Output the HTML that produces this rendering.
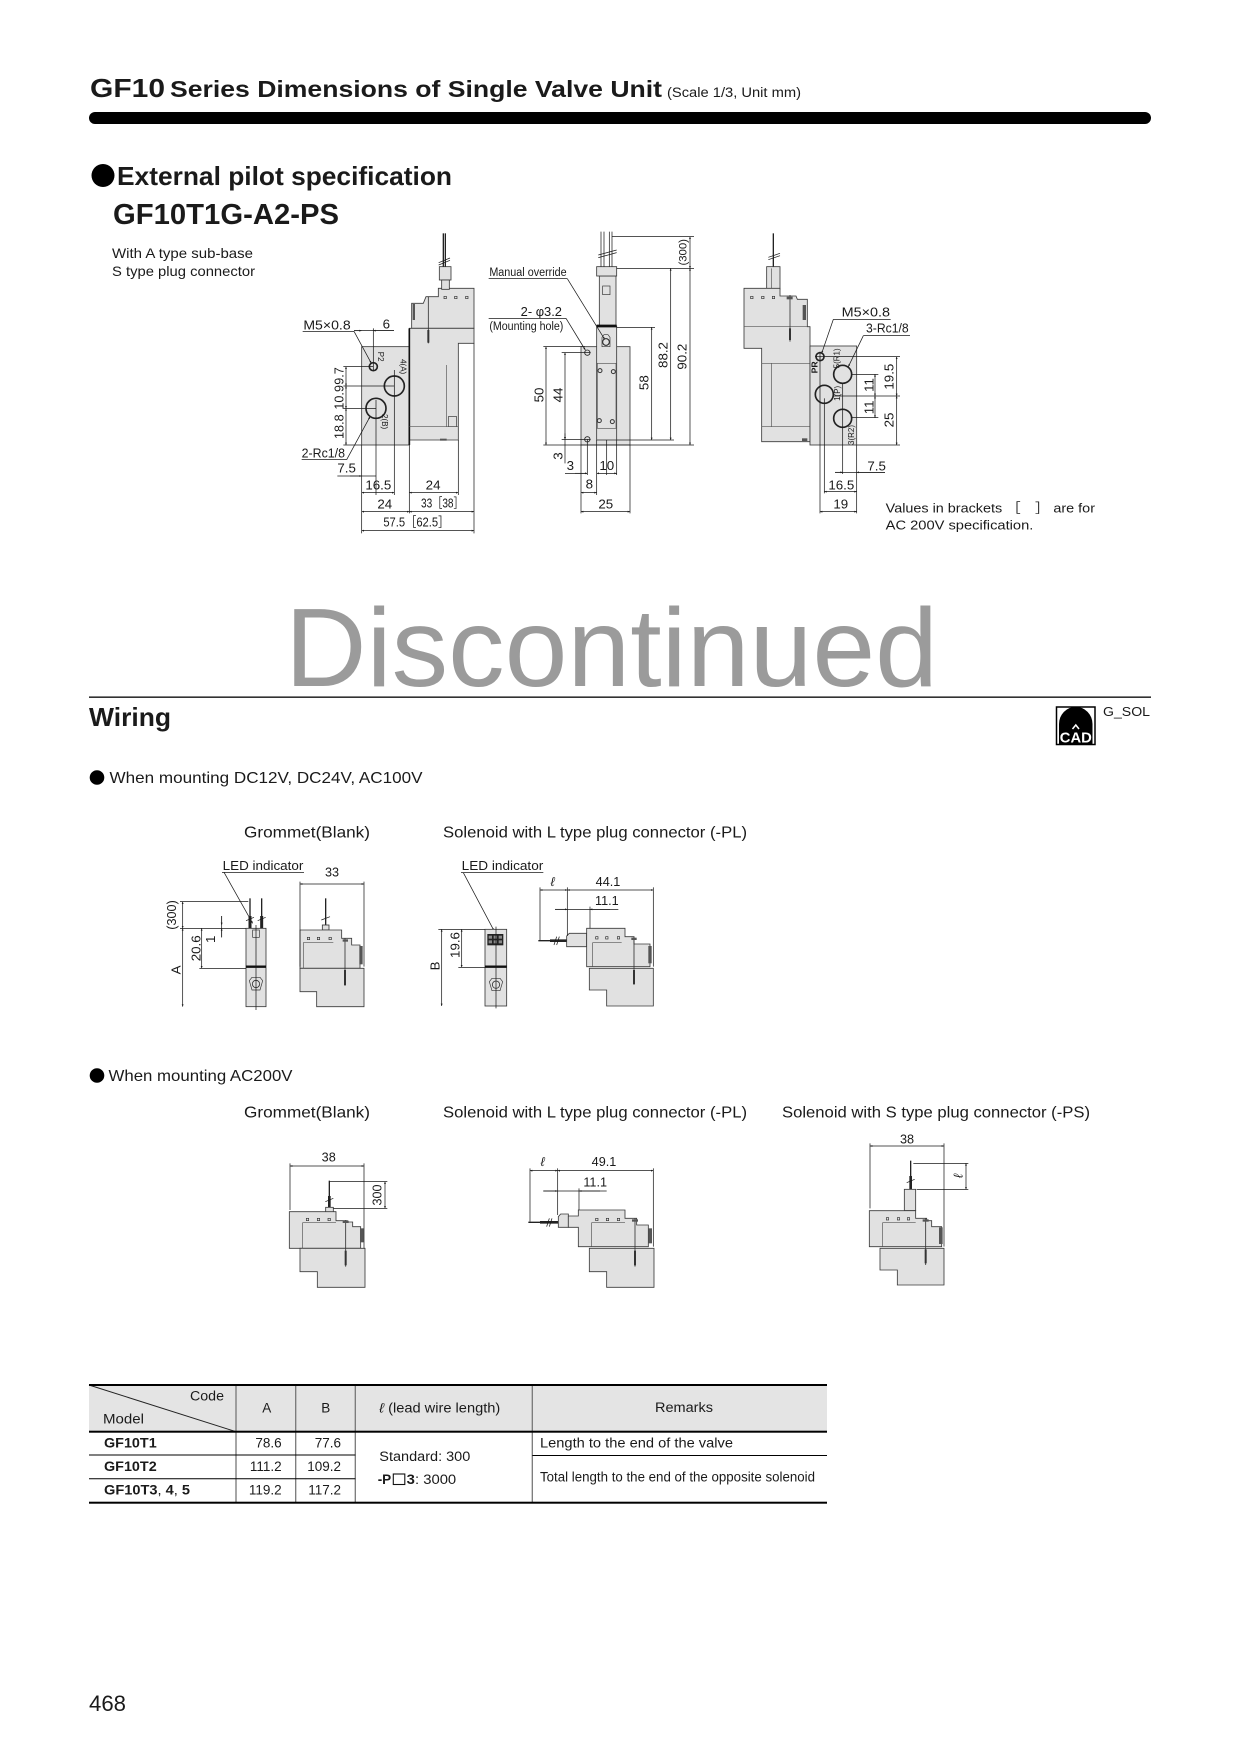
<!DOCTYPE html>
<html><head><meta charset="utf-8"><style>
html,body{margin:0;padding:0;background:#fff}
svg{display:block}
text{font-family:"Liberation Sans","Noto Sans CJK JP",Arial,sans-serif;fill:#1a1a1a}
.o{fill:#e1e1e1;stroke:#3a3a3a;stroke-width:2.5}
.l{stroke:#1a1a1a;stroke-width:2.2;fill:none}
.g{stroke:#555;stroke-width:2;fill:none}
.a{stroke:#1a1a1a;stroke-width:2.2;fill:none;marker-start:url(#ar);marker-end:url(#ar)}
.e{stroke:#1a1a1a;stroke-width:2.2;fill:none;marker-end:url(#ar)}
.w{stroke:#222;stroke-width:4;fill:none}
.p{fill:none;stroke:#222;stroke-width:5}
.s{fill:none;stroke:#333;stroke-width:2}
.dk{fill:#555}
</style></head><body>
<svg width="1240" height="1752" viewBox="0 0 1240 1752" xmlns="http://www.w3.org/2000/svg">
<defs><marker id="ar" viewBox="0 0 10 10" refX="10" refY="5" markerWidth="16" markerHeight="7" markerUnits="userSpaceOnUse" orient="auto-start-reverse"><path d="M0,1 L10,5 L0,9z" fill="#1a1a1a"/></marker></defs>

<!-- Header -->
<text x="90" y="97" font-size="26" font-weight="bold" textLength="75" lengthAdjust="spacingAndGlyphs">GF10</text>
<text x="170" y="97" font-size="23" font-weight="bold" textLength="492" lengthAdjust="spacingAndGlyphs">Series Dimensions of Single Valve Unit</text>
<text x="667" y="97" font-size="13.5" textLength="134" lengthAdjust="spacingAndGlyphs">(Scale 1/3, Unit mm)</text>
<rect x="89" y="112" width="1062" height="12" rx="6" fill="#000"/>
<circle cx="103" cy="175.5" r="11.5" fill="#000"/>
<text x="117" y="185" font-size="26" font-weight="bold" textLength="335" lengthAdjust="spacingAndGlyphs">External pilot specification</text>
<text x="113" y="224" font-size="29" font-weight="bold" textLength="226" lengthAdjust="spacingAndGlyphs">GF10T1G-A2-PS</text>
<text x="112" y="258" font-size="14" textLength="141" lengthAdjust="spacingAndGlyphs">With A type sub-base</text>
<text x="112" y="276" font-size="14" textLength="143" lengthAdjust="spacingAndGlyphs">S type plug connector</text>

<!-- Left & center views -->
<g transform="translate(250,200) scale(0.33333)">
  <!-- left view -->
  <rect class="o" x="335" y="440" width="143" height="295"/>
  <path class="o" d="M485,385 L485,310 L520,310 L528,290 L565,290 L565,265 L672,265 L672,385 Z"/>
  <path class="o" d="M478,385 L672,385 L672,430 L625,430 L625,720 L478,720 Z"/>
  <line x1="478" y1="385" x2="478" y2="735" stroke="#111" stroke-width="5"/>
  <rect class="dk" x="488" y="312" width="7" height="48"/>
  <line class="g" x1="590" y1="495" x2="590" y2="680"/>
  <rect class="s" x="595" y="650" width="25" height="30"/>
  <line class="g" x1="478" y1="680" x2="625" y2="680"/>
  <rect class="dk" x="570" y="716" width="20" height="6"/>
  <line x1="535" y1="290" x2="535" y2="430" stroke="#333" stroke-width="2.5"/>
  <line x1="535" y1="390" x2="535" y2="428" stroke="#333" stroke-width="6"/>
  <rect class="s" x="582" y="289" width="7" height="7"/><rect class="s" x="614" y="289" width="7" height="7"/><rect class="s" x="647" y="289" width="7" height="7"/>
  <rect class="o" x="568" y="200" width="35" height="40"/>
  <rect class="o" x="575" y="240" width="23" height="28"/>
  <line class="w" x1="580" y1="100" x2="580" y2="200" stroke-width="2.5"/><line class="w" x1="586" y1="100" x2="586" y2="200" stroke-width="2.5"/>
  <line class="l" x1="566" y1="188" x2="600" y2="174"/><line class="l" x1="566" y1="195" x2="600" y2="181"/>
  <circle class="p" cx="370" cy="500" r="12" stroke-width="4"/>
  <circle class="p" cx="433" cy="558" r="30"/>
  <circle class="p" cx="378" cy="625" r="30"/>
  <text transform="translate(384,470) rotate(90)" font-size="24" text-anchor="middle">P2</text>
  <text transform="translate(452,500) rotate(90)" font-size="24" text-anchor="middle">4(A)</text>
  <text transform="translate(396,665) rotate(90)" font-size="24" text-anchor="middle">2(B)</text>
  <text x="160" y="388" font-size="40" textLength="142" lengthAdjust="spacingAndGlyphs">M5×0.8</text>
  <line class="l" x1="158" y1="394" x2="312" y2="394"/>
  <line class="e" x1="312" y1="394" x2="364" y2="490"/>
  <text x="398" y="385" font-size="40">6</text>
  <line class="l" x1="312" y1="392" x2="432" y2="392"/>
  <line class="e" x1="312" y1="392" x2="335" y2="392"/><line class="e" x1="432" y1="392" x2="370" y2="392"/>
  <line class="l" x1="370" y1="385" x2="370" y2="512"/>
  <line class="l" x1="280" y1="500" x2="370" y2="500"/>
  <line class="l" x1="280" y1="558" x2="433" y2="558"/>
  <line class="l" x1="280" y1="625" x2="378" y2="625"/>
  <line class="l" x1="280" y1="735" x2="335" y2="735"/>
  <line class="a" x1="288" y1="500" x2="288" y2="558"/>
  <line class="a" x1="288" y1="558" x2="288" y2="625"/>
  <line class="a" x1="288" y1="625" x2="288" y2="735"/>
  <text transform="translate(280,528) rotate(-90)" font-size="38" text-anchor="middle">9.7</text>
  <text transform="translate(280,592) rotate(-90)" font-size="38" text-anchor="middle">10.9</text>
  <text transform="translate(280,680) rotate(-90)" font-size="38" text-anchor="middle">18.8</text>
  <text x="155" y="773" font-size="40" textLength="130" lengthAdjust="spacingAndGlyphs">2-Rc1/8</text>
  <line class="l" x1="155" y1="779" x2="290" y2="779"/>
  <line class="e" x1="290" y1="779" x2="360" y2="650"/>
  <text x="262" y="818" font-size="40">7.5</text>
  <line class="l" x1="262" y1="828" x2="378" y2="828"/>
  <line class="e" x1="300" y1="828" x2="335" y2="828"/>
  <text x="346" y="868" font-size="40">16.5</text>
  <line class="a" x1="335" y1="878" x2="433" y2="878"/>
  <text x="527" y="868" font-size="40">24</text>
  <line class="a" x1="478" y1="878" x2="625" y2="878"/>
  <text x="382" y="925" font-size="40">24</text>
  <line class="a" x1="335" y1="935" x2="478" y2="935"/>
  <text x="513" y="922" font-size="40" textLength="128" lengthAdjust="spacingAndGlyphs">33［38］</text>
  <line class="a" x1="478" y1="935" x2="672" y2="935"/>
  <text x="400" y="980" font-size="40" textLength="198" lengthAdjust="spacingAndGlyphs">57.5［62.5］</text>
  <line class="a" x1="335" y1="992" x2="672" y2="992"/>
  <line class="l" x1="335" y1="735" x2="335" y2="1000"/>
  <line class="l" x1="378" y1="600" x2="378" y2="885"/>
  <line class="l" x1="433" y1="510" x2="433" y2="885"/>
  <line class="l" x1="478" y1="720" x2="478" y2="940"/>
  <line class="l" x1="625" y1="720" x2="625" y2="885"/>
  <line class="l" x1="672" y1="430" x2="672" y2="1000"/>

  <!-- center view -->
  <rect class="o" x="993" y="440" width="147" height="295"/>
  <rect class="o" x="1040" y="378" width="60" height="342"/>
  <rect class="o" x="1048" y="228" width="50" height="150"/>
  <rect class="o" x="1040" y="200" width="60" height="28"/>
  <rect class="s" x="1058" y="258" width="22" height="26"/>
  <line x1="1040" y1="378" x2="1100" y2="378" stroke="#111" stroke-width="8"/>
  <rect class="g" x="1042" y="490" width="56" height="195"/>
  <path class="s" d="M1056,412 L1062,404 L1074,404 L1080,412 L1080,440 L1056,440 Z"/>
  <circle cx="1068" cy="426" r="10" fill="none" stroke="#222" stroke-width="3"/>
  <circle cx="1050" cy="512" r="6" fill="none" stroke="#333" stroke-width="3"/>
  <circle cx="1090" cy="515" r="6" fill="none" stroke="#333" stroke-width="3"/>
  <circle cx="1048" cy="662" r="6" fill="none" stroke="#333" stroke-width="3"/>
  <circle cx="1087" cy="665" r="6" fill="none" stroke="#333" stroke-width="3"/>
  <line class="l" x1="1053" y1="95" x2="1053" y2="200"/><line class="l" x1="1062" y1="95" x2="1062" y2="200"/>
  <line class="l" x1="1078" y1="95" x2="1078" y2="200"/><line class="l" x1="1086" y1="95" x2="1086" y2="200"/>
  <line class="l" x1="1045" y1="165" x2="1100" y2="150"/><line class="l" x1="1045" y1="173" x2="1100" y2="158"/>
  <circle cx="1012" cy="458" r="8" fill="none" stroke="#222" stroke-width="2.5"/>
  <circle cx="1012" cy="718" r="8" fill="none" stroke="#222" stroke-width="2.5"/>
  <line class="l" x1="1086" y1="110" x2="1332" y2="110"/>
  <line class="l" x1="1100" y1="205" x2="1332" y2="205"/>
  <line class="l" x1="1100" y1="382" x2="1215" y2="382"/>
  <line class="l" x1="1100" y1="720" x2="1272" y2="720"/>
  <line class="l" x1="880" y1="735" x2="1332" y2="735"/>
  <line class="l" x1="880" y1="440" x2="1005" y2="440"/>
  <line class="l" x1="935" y1="458" x2="1022" y2="458"/>
  <line class="l" x1="935" y1="718" x2="1022" y2="718"/>
  <line class="a" x1="1320" y1="110" x2="1320" y2="205"/>
  <line class="a" x1="1320" y1="205" x2="1320" y2="735"/>
  <line class="a" x1="1262" y1="205" x2="1262" y2="720"/>
  <line class="a" x1="1205" y1="382" x2="1205" y2="720"/>
  <line class="a" x1="888" y1="440" x2="888" y2="735"/>
  <line class="a" x1="945" y1="458" x2="945" y2="718"/>
  <line class="l" x1="945" y1="718" x2="945" y2="790"/>
  <line class="e" x1="945" y1="700" x2="945" y2="718"/>
  <text transform="translate(1310,157) rotate(-90)" font-size="34" text-anchor="middle">(300)</text>
  <text transform="translate(1310,470) rotate(-90)" font-size="40" text-anchor="middle">90.2</text>
  <text transform="translate(1252,465) rotate(-90)" font-size="40" text-anchor="middle">88.2</text>
  <text transform="translate(1195,548) rotate(-90)" font-size="40" text-anchor="middle">58</text>
  <text transform="translate(880,585) rotate(-90)" font-size="40" text-anchor="middle">50</text>
  <text transform="translate(938,585) rotate(-90)" font-size="40" text-anchor="middle">44</text>
  <text transform="translate(938,768) rotate(-90)" font-size="40" text-anchor="middle">3</text>
  <line class="l" x1="993" y1="735" x2="993" y2="940"/>
  <line class="l" x1="1012" y1="718" x2="1012" y2="825"/>
  <line class="l" x1="1040" y1="720" x2="1040" y2="885"/>
  <line class="l" x1="1070" y1="720" x2="1070" y2="825"/>
  <line class="l" x1="1100" y1="720" x2="1100" y2="825"/>
  <line class="l" x1="1140" y1="735" x2="1140" y2="940"/>
  <text x="950" y="810" font-size="40">3</text>
  <line class="l" x1="945" y1="820" x2="1012" y2="820"/>
  <line class="e" x1="975" y1="820" x2="1012" y2="820"/>
  <text x="1048" y="810" font-size="40">10</text>
  <line class="a" x1="1040" y1="820" x2="1100" y2="820"/>
  <text x="1007" y="865" font-size="40">8</text>
  <line class="a" x1="993" y1="878" x2="1040" y2="878"/>
  <text x="1045" y="925" font-size="40">25</text>
  <line class="a" x1="993" y1="935" x2="1140" y2="935"/>
  <text x="718" y="228" font-size="36" textLength="232" lengthAdjust="spacingAndGlyphs">Manual override</text>
  <line class="l" x1="716" y1="236" x2="952" y2="236"/>
  <line class="e" x1="952" y1="236" x2="1064" y2="418"/>
  <text x="812" y="348" font-size="40" textLength="124" lengthAdjust="spacingAndGlyphs">2- φ3.2</text>
  <line class="l" x1="716" y1="355" x2="948" y2="355"/>
  <text x="718" y="390" font-size="36" textLength="222" lengthAdjust="spacingAndGlyphs">(Mounting hole)</text>
  <line class="e" x1="948" y1="355" x2="1006" y2="450"/>
</g>

<!-- Right view -->
<g transform="translate(720,220) scale(0.33333)">
  <line class="w" x1="160" y1="40" x2="160" y2="140"/>
  <line class="l" x1="145" y1="112" x2="180" y2="100"/><line class="l" x1="145" y1="119" x2="180" y2="107"/>
  <rect class="o" x="140" y="140" width="40" height="68"/>
  <line class="g" x1="155" y1="145" x2="155" y2="205"/>
  <path class="o" d="M72,205 L180,205 L180,228 L228,228 L232,238 L262,238 L262,320 L270,320 L270,665 L125,665 L125,385 L72,385 Z"/>
  <line class="g" x1="72" y1="320" x2="262" y2="320"/>
  <line class="g" x1="125" y1="430" x2="270" y2="430"/>
  <line class="g" x1="155" y1="430" x2="155" y2="620"/>
  <line class="g" x1="125" y1="620" x2="270" y2="620"/>
  <rect class="dk" x="246" y="655" width="16" height="8"/>
  <rect class="dk" x="248" y="255" width="10" height="45"/>
  <rect class="s" x="92" y="229" width="7" height="7"/><rect class="s" x="125" y="229" width="7" height="7"/><rect class="s" x="157" y="229" width="7" height="7"/>
  <line x1="210" y1="225" x2="210" y2="365" stroke="#333" stroke-width="2.5"/>
  <line x1="210" y1="325" x2="210" y2="360" stroke="#333" stroke-width="6"/>
  <rect class="dk" x="200" y="230" width="18" height="8"/>
  <rect class="o" x="270" y="378" width="140" height="297"/>
  <circle class="p" cx="300" cy="410" r="12" stroke-width="4"/>
  <line class="l" x1="285" y1="410" x2="315" y2="410"/><line class="l" x1="300" y1="395" x2="300" y2="425"/>
  <circle class="p" cx="368" cy="463" r="27"/>
  <circle class="p" cx="313" cy="523" r="27"/>
  <circle class="p" cx="368" cy="595" r="27"/>
  <text transform="translate(293,442) rotate(-90)" font-size="26" font-weight="bold" text-anchor="middle">PR</text>
  <text transform="translate(358,415) rotate(-90)" font-size="24" text-anchor="middle">5(R1)</text>
  <text transform="translate(360,520) rotate(-90)" font-size="24" text-anchor="middle">1(P)</text>
  <text transform="translate(402,645) rotate(-90)" font-size="24" text-anchor="middle">3(R2)</text>
  <text x="365" y="290" font-size="40" textLength="145" lengthAdjust="spacingAndGlyphs">M5×0.8</text>
  <line class="l" x1="340" y1="298" x2="512" y2="298"/>
  <line class="e" x1="340" y1="298" x2="305" y2="400"/>
  <text x="438" y="338" font-size="40" textLength="128" lengthAdjust="spacingAndGlyphs">3-Rc1/8</text>
  <line class="l" x1="430" y1="347" x2="570" y2="347"/>
  <line class="e" x1="430" y1="347" x2="385" y2="440"/>
  <line class="l" x1="315" y1="410" x2="540" y2="410"/>
  <line class="l" x1="340" y1="528" x2="540" y2="528"/>
  <line class="l" x1="410" y1="675" x2="540" y2="675"/>
  <line class="a" x1="530" y1="410" x2="530" y2="528"/>
  <line class="a" x1="530" y1="528" x2="530" y2="675"/>
  <text transform="translate(520,470) rotate(-90)" font-size="40" text-anchor="middle">19.5</text>
  <text transform="translate(520,600) rotate(-90)" font-size="40" text-anchor="middle">25</text>
  <line class="l" x1="395" y1="463" x2="475" y2="463"/>
  <line class="l" x1="395" y1="593" x2="475" y2="593"/>
  <line class="a" x1="465" y1="463" x2="465" y2="528"/>
  <line class="a" x1="465" y1="528" x2="465" y2="593"/>
  <text transform="translate(460,495) rotate(-90)" font-size="40" text-anchor="middle">11</text>
  <text transform="translate(460,562) rotate(-90)" font-size="40" text-anchor="middle">11</text>
  <line class="l" x1="300" y1="410" x2="300" y2="880"/>
  <line class="l" x1="313" y1="535" x2="313" y2="820"/>
  <line class="l" x1="368" y1="490" x2="368" y2="762"/>
  <line class="l" x1="410" y1="675" x2="410" y2="880"/>
  <text x="442" y="752" font-size="40">7.5</text>
  <line class="l" x1="345" y1="757" x2="495" y2="757"/>
  <line class="e" x1="345" y1="757" x2="368" y2="757"/><line class="e" x1="495" y1="757" x2="410" y2="757"/>
  <text x="325" y="808" font-size="40">16.5</text>
  <line class="a" x1="313" y1="815" x2="410" y2="815"/>
  <text x="340" y="865" font-size="40">19</text>
  <line class="a" x1="300" y1="875" x2="410" y2="875"/>
  <text x="497" y="877" font-size="40" textLength="628" lengthAdjust="spacingAndGlyphs">Values in brackets ［　］ are for</text>
  <text x="497" y="928" font-size="40" textLength="443" lengthAdjust="spacingAndGlyphs">AC 200V specification.</text>
</g>

<!-- Discontinued -->
<text x="285" y="686" font-size="111" style="fill:#9b9b9b" textLength="653" lengthAdjust="spacingAndGlyphs">Discontinued</text>
<rect x="89" y="696.5" width="1062" height="1.3" fill="#000"/>
<text x="89" y="726" font-size="26" font-weight="bold" textLength="82" lengthAdjust="spacingAndGlyphs">Wiring</text>

<!-- CAD icon -->
<rect x="1056.5" y="707" width="38.5" height="37.5" fill="#fff" stroke="#000" stroke-width="1.5"/>
<path d="M1059,744 L1059,724 A16.5,17 0 0 1 1092.5,724 L1092.5,744 Z" fill="#000"/>
<text x="1075.8" y="742.5" font-size="15" font-weight="bold" text-anchor="middle" style="fill:#fff" textLength="32" lengthAdjust="spacingAndGlyphs">CAD</text>
<path d="M1072.5,729 L1075.8,725 L1079,729" stroke="#fff" stroke-width="1.5" fill="none"/>
<text x="1103" y="716" font-size="13.3" textLength="47" lengthAdjust="spacingAndGlyphs">G_SOL</text>

<circle cx="97" cy="777.5" r="7.3" fill="#000"/>
<text x="109.5" y="783" font-size="16" textLength="313" lengthAdjust="spacingAndGlyphs">When mounting DC12V, DC24V, AC100V</text>

<text x="244" y="837.5" font-size="16" textLength="126" lengthAdjust="spacingAndGlyphs">Grommet(Blank)</text>
<text x="443" y="837.5" font-size="16" textLength="304" lengthAdjust="spacingAndGlyphs">Solenoid with L type plug connector (-PL)</text>

<!-- DC Grommet -->
<g transform="translate(160,810) scale(0.33333)">
  <text x="188" y="180" font-size="38" textLength="242" lengthAdjust="spacingAndGlyphs">LED indicator</text>
  <line class="l" x1="186" y1="187" x2="432" y2="187"/>
  <line class="e" x1="192" y1="187" x2="278" y2="340"/>
  <line class="w" x1="270" y1="265" x2="270" y2="355"/><line class="w" x1="305" y1="265" x2="305" y2="355"/>
  <line x1="270" y1="318" x2="270" y2="355" stroke="#222" stroke-width="9"/><line x1="305" y1="318" x2="305" y2="355" stroke="#222" stroke-width="9"/>
  <line class="l" x1="258" y1="332" x2="282" y2="322"/><line class="l" x1="293" y1="332" x2="317" y2="322"/>
  <rect class="o" x="258" y="355" width="60" height="235"/>
  <line x1="258" y1="470" x2="318" y2="470" stroke="#111" stroke-width="7"/>
  <rect class="s" x="278" y="360" width="20" height="22"/>
  <path class="s" d="M268,512 L276,502 L300,502 L308,512 L300,540 L276,540 Z"/>
  <circle cx="288" cy="522" r="11" fill="none" stroke="#333" stroke-width="2.5"/>
  <line class="l" x1="288" y1="345" x2="288" y2="600"/>
  <line class="l" x1="60" y1="275" x2="265" y2="275"/>
  <line class="l" x1="60" y1="355" x2="258" y2="355"/>
  <line class="l" x1="118" y1="475" x2="258" y2="475"/>
  <line class="a" x1="68" y1="275" x2="68" y2="355"/>
  <line class="a" x1="68" y1="355" x2="68" y2="590"/>
  <line class="a" x1="125" y1="355" x2="125" y2="475"/>
  <line class="l" x1="185" y1="318" x2="185" y2="382"/>
  <line class="e" x1="185" y1="318" x2="185" y2="345"/><line class="e" x1="185" y1="382" x2="185" y2="355"/>
  <text transform="translate(48,315) rotate(-90)" font-size="38" text-anchor="middle">(300)</text>
  <text transform="translate(62,480) rotate(-90)" font-size="40" text-anchor="middle">A</text>
  <text transform="translate(121,415) rotate(-90)" font-size="40" text-anchor="middle">20.6</text>
  <text transform="translate(165,388) rotate(-90)" font-size="40" text-anchor="middle">1</text>
  <line class="w" x1="497" y1="265" x2="497" y2="350"/>
  <line class="l" x1="484" y1="330" x2="510" y2="320"/>
  <rect class="o" x="487" y="345" width="20" height="15"/>
  <path class="o" d="M420,360 L545,360 L545,385 L575,385 L575,405 L600,405 L600,475 L420,475 Z"/>
  <path class="o" d="M420,475 L612,475 L612,590 L470,590 L470,545 L420,545 Z"/>
  <path class="g" d="M430,475 L430,398 L520,398"/>
  <rect class="s" x="442" y="382" width="7" height="7"/><rect class="s" x="472" y="382" width="7" height="7"/><rect class="s" x="507" y="382" width="7" height="7"/>
  <line x1="555" y1="385" x2="555" y2="528" stroke="#333" stroke-width="2.5"/>
  <line x1="555" y1="480" x2="555" y2="525" stroke="#333" stroke-width="6"/>
  <rect class="dk" x="548" y="388" width="16" height="7"/>
  <rect class="dk" x="598" y="408" width="10" height="55"/>
  <text x="495" y="200" font-size="38">33</text>
  <line class="a" x1="420" y1="222" x2="612" y2="222"/>
  <line class="l" x1="420" y1="215" x2="420" y2="470"/>
  <line class="l" x1="612" y1="215" x2="612" y2="470"/>
</g>

<!-- DC L type -->
<g transform="translate(430,810) scale(0.33333)">
  <text x="95" y="180" font-size="38" textLength="245" lengthAdjust="spacingAndGlyphs">LED indicator</text>
  <line class="l" x1="93" y1="188" x2="340" y2="188"/>
  <line class="e" x1="100" y1="188" x2="192" y2="362"/>
  <rect class="o" x="165" y="358" width="65" height="230"/>
  <line x1="165" y1="470" x2="230" y2="470" stroke="#111" stroke-width="7"/>
  <rect x="172" y="372" width="48" height="34" fill="#222"/>
  <rect x="176" y="377" width="10" height="9" fill="#888"/><rect x="191" y="377" width="10" height="9" fill="#888"/><rect x="206" y="377" width="10" height="9" fill="#888"/>
  <rect x="176" y="391" width="10" height="9" fill="#888"/><rect x="191" y="391" width="10" height="9" fill="#888"/><rect x="206" y="391" width="10" height="9" fill="#888"/>
  <path class="s" d="M178,515 L186,505 L210,505 L218,515 L210,542 L186,542 Z"/>
  <circle cx="198" cy="524" r="11" fill="none" stroke="#333" stroke-width="2.5"/>
  <line class="l" x1="198" y1="350" x2="198" y2="595"/>
  <line class="l" x1="25" y1="358" x2="165" y2="358"/>
  <line class="l" x1="85" y1="472" x2="165" y2="472"/>
  <line class="a" x1="35" y1="358" x2="35" y2="588"/>
  <line class="a" x1="95" y1="358" x2="95" y2="472"/>
  <text transform="translate(28,468) rotate(-90)" font-size="40" text-anchor="middle">B</text>
  <text transform="translate(88,405) rotate(-90)" font-size="40" text-anchor="middle">19.6</text>
  <line class="w" x1="325" y1="392" x2="410" y2="392"/>
  <line x1="360" y1="392" x2="410" y2="392" stroke="#222" stroke-width="8"/>
  <line class="l" x1="372" y1="405" x2="380" y2="380"/><line class="l" x1="380" y1="405" x2="388" y2="380"/>
  <path class="o" d="M410,378 L418,370 L470,370 L470,410 L410,410 Z"/>
  <path class="o" d="M470,355 L585,355 L585,380 L612,380 L612,402 L660,402 L660,470 L470,470 Z"/>
  <path class="o" d="M478,475 L670,475 L670,588 L530,588 L530,540 L478,540 Z"/>
  <path class="g" d="M488,470 L488,398 L575,398"/>
  <rect class="s" x="497" y="380" width="7" height="7"/><rect class="s" x="527" y="380" width="7" height="7"/><rect class="s" x="562" y="380" width="7" height="7"/>
  <line x1="612" y1="380" x2="612" y2="525" stroke="#333" stroke-width="2.5"/>
  <line x1="612" y1="480" x2="612" y2="522" stroke="#333" stroke-width="6"/>
  <rect class="dk" x="604" y="383" width="16" height="7"/>
  <rect class="dk" x="655" y="408" width="10" height="52"/>
  <text x="362" y="228" font-size="38" font-style="italic">ℓ</text>
  <line class="a" x1="330" y1="240" x2="412" y2="240"/>
  <text x="497" y="228" font-size="38">44.1</text>
  <line class="a" x1="412" y1="240" x2="670" y2="240"/>
  <line class="l" x1="330" y1="232" x2="330" y2="390"/>
  <line class="l" x1="412" y1="232" x2="412" y2="378"/>
  <line class="l" x1="670" y1="232" x2="670" y2="470"/>
  <text x="495" y="285" font-size="38">11.1</text>
  <line class="l" x1="375" y1="298" x2="565" y2="298"/>
  <line class="e" x1="375" y1="298" x2="412" y2="298"/><line class="e" x1="540" y1="298" x2="480" y2="298"/>
  <line class="l" x1="480" y1="290" x2="480" y2="355"/>
</g>

<circle cx="97" cy="1075.5" r="7.3" fill="#000"/>
<text x="108.5" y="1081" font-size="16" textLength="184" lengthAdjust="spacingAndGlyphs">When mounting AC200V</text>

<text x="244" y="1117.5" font-size="16" textLength="126" lengthAdjust="spacingAndGlyphs">Grommet(Blank)</text>
<text x="443" y="1117.5" font-size="16" textLength="304" lengthAdjust="spacingAndGlyphs">Solenoid with L type plug connector (-PL)</text>
<text x="782" y="1117.5" font-size="16" textLength="308" lengthAdjust="spacingAndGlyphs">Solenoid with S type plug connector (-PS)</text>

<!-- AC Grommet + L -->
<g transform="translate(230,1090) scale(0.33333)">
  <line class="w" x1="298" y1="272" x2="298" y2="355"/>
  <line x1="298" y1="318" x2="298" y2="355" stroke="#222" stroke-width="8"/>
  <line class="l" x1="286" y1="335" x2="310" y2="325"/>
  <rect class="o" x="287" y="352" width="23" height="14"/>
  <path class="o" d="M178,365 L318,365 L318,392 L352,392 L352,396 L368,396 L368,410 L392,410 L392,475 L178,475 Z"/>
  <path class="o" d="M210,475 L405,475 L405,592 L262,592 L262,545 L210,545 Z"/>
  <path class="g" d="M218,475 L218,398 L318,398"/>
  <rect class="s" x="229" y="385" width="7" height="7"/><rect class="s" x="262" y="385" width="7" height="7"/><rect class="s" x="294" y="385" width="7" height="7"/>
  <line x1="347" y1="390" x2="347" y2="530" stroke="#333" stroke-width="2.5"/>
  <line x1="347" y1="482" x2="347" y2="526" stroke="#333" stroke-width="6"/>
  <rect class="dk" x="338" y="392" width="18" height="7"/>
  <rect class="dk" x="390" y="415" width="11" height="42"/>
  <text x="275" y="215" font-size="38">38</text>
  <line class="a" x1="180" y1="228" x2="402" y2="228"/>
  <line class="l" x1="180" y1="220" x2="180" y2="360"/>
  <line class="l" x1="402" y1="220" x2="402" y2="475"/>
  <line class="l" x1="300" y1="275" x2="472" y2="275"/>
  <line class="l" x1="310" y1="355" x2="472" y2="355"/>
  <line class="a" x1="465" y1="275" x2="465" y2="355"/>
  <text transform="translate(454,315) rotate(-90)" font-size="38" text-anchor="middle">300</text>

  <line class="w" x1="895" y1="397" x2="985" y2="397"/>
  <line x1="930" y1="397" x2="985" y2="397" stroke="#222" stroke-width="8"/>
  <line class="l" x1="950" y1="410" x2="958" y2="385"/><line class="l" x1="958" y1="410" x2="966" y2="385"/>
  <path class="o" d="M985,380 L992,372 L1015,372 L1015,412 L985,412 Z"/>
  <path class="o" d="M1015,378 L1045,378 L1045,360 L1185,360 L1185,385 L1220,385 L1220,405 L1255,405 L1255,470 L1045,470 L1045,412 L1015,412 Z"/>
  <path class="o" d="M1078,475 L1272,475 L1272,592 L1130,592 L1130,545 L1078,545 Z"/>
  <path class="g" d="M1085,470 L1085,398 L1185,398"/>
  <rect class="s" x="1097" y="385" width="7" height="7"/><rect class="s" x="1129" y="385" width="7" height="7"/><rect class="s" x="1162" y="385" width="7" height="7"/>
  <line x1="1215" y1="385" x2="1215" y2="530" stroke="#333" stroke-width="2.5"/>
  <line x1="1215" y1="482" x2="1215" y2="526" stroke="#333" stroke-width="6"/>
  <rect class="dk" x="1206" y="388" width="18" height="7"/>
  <rect class="dk" x="1255" y="415" width="11" height="45"/>
  <text x="932" y="228" font-size="38" font-style="italic">ℓ</text>
  <line class="a" x1="900" y1="242" x2="983" y2="242"/>
  <text x="1085" y="228" font-size="38">49.1</text>
  <line class="a" x1="983" y1="242" x2="1270" y2="242"/>
  <line class="l" x1="900" y1="235" x2="900" y2="395"/>
  <line class="l" x1="983" y1="235" x2="983" y2="375"/>
  <line class="l" x1="1270" y1="235" x2="1270" y2="470"/>
  <text x="1060" y="290" font-size="38">11.1</text>
  <line class="l" x1="940" y1="303" x2="1130" y2="303"/>
  <line class="e" x1="940" y1="303" x2="983" y2="303"/><line class="e" x1="1110" y1="303" x2="1047" y2="303"/>
  <line class="l" x1="1047" y1="295" x2="1047" y2="360"/>
</g>

<!-- AC S type -->
<g transform="translate(770,1090) scale(0.33333)">
  <line class="w" x1="422" y1="212" x2="422" y2="298"/>
  <line x1="422" y1="258" x2="422" y2="298" stroke="#222" stroke-width="8"/>
  <line class="l" x1="410" y1="278" x2="434" y2="268"/>
  <rect class="o" x="403" y="298" width="34" height="64"/>
  <path class="o" d="M298,362 L437,362 L437,385 L470,385 L470,392 L485,392 L485,410 L515,410 L515,470 L298,470 Z"/>
  <path class="o" d="M330,475 L522,475 L522,585 L382,585 L382,540 L330,540 Z"/>
  <path class="g" d="M338,470 L338,398 L437,398"/>
  <rect class="s" x="349" y="383" width="7" height="7"/><rect class="s" x="382" y="383" width="7" height="7"/><rect class="s" x="412" y="383" width="7" height="7"/>
  <line x1="467" y1="385" x2="467" y2="525" stroke="#333" stroke-width="2.5"/>
  <line x1="467" y1="478" x2="467" y2="520" stroke="#333" stroke-width="6"/>
  <rect class="dk" x="458" y="388" width="18" height="7"/>
  <rect class="dk" x="507" y="412" width="11" height="50"/>
  <text x="390" y="160" font-size="38">38</text>
  <line class="a" x1="300" y1="168" x2="522" y2="168"/>
  <line class="l" x1="300" y1="160" x2="300" y2="355"/>
  <line class="l" x1="522" y1="160" x2="522" y2="470"/>
  <line class="l" x1="430" y1="220" x2="595" y2="220"/>
  <line class="l" x1="440" y1="298" x2="595" y2="298"/>
  <line class="a" x1="588" y1="220" x2="588" y2="298"/>
  <text transform="translate(578,258) rotate(-90)" font-size="38" font-style="italic" text-anchor="middle">ℓ</text>
</g>

<!-- Table -->
<rect x="89" y="1385" width="738" height="47" fill="#e4e4e4"/>
<line x1="89" y1="1385" x2="236" y2="1431.7" stroke="#222" stroke-width="1"/>
<g stroke="#777" stroke-width="1.3">
  <line x1="236" y1="1385" x2="236" y2="1503"/>
  <line x1="295.7" y1="1385" x2="295.7" y2="1503"/>
  <line x1="355.3" y1="1385" x2="355.3" y2="1503"/>
  <line x1="532.3" y1="1385" x2="532.3" y2="1503"/>
</g>
<g stroke="#000" stroke-width="1">
  <line x1="89" y1="1455" x2="355.3" y2="1455"/>
  <line x1="532.3" y1="1455.5" x2="827" y2="1455.5"/>
  <line x1="89" y1="1478.7" x2="355.3" y2="1478.7"/>
</g>
<g fill="#000">
  <rect x="89" y="1384" width="738" height="2"/>
  <rect x="89" y="1430.7" width="738" height="2"/>
  <rect x="89" y="1501.7" width="738" height="2"/>
</g>
<text x="190" y="1400.5" font-size="13.5" textLength="34" lengthAdjust="spacingAndGlyphs">Code</text>
<text x="103" y="1423.3" font-size="13.5" textLength="41" lengthAdjust="spacingAndGlyphs">Model</text>
<text x="266.7" y="1412.3" font-size="13.5" text-anchor="middle">A</text>
<text x="325.7" y="1412.3" font-size="13.5" text-anchor="middle">B</text>
<text x="379.3" y="1412.3" font-size="13.5" textLength="121" lengthAdjust="spacingAndGlyphs"><tspan font-style="italic">ℓ</tspan> (lead wire length)</text>
<text x="655" y="1412" font-size="13.5" textLength="58" lengthAdjust="spacingAndGlyphs">Remarks</text>
<text x="104" y="1447.3" font-size="13.5" font-weight="bold" textLength="52.7" lengthAdjust="spacingAndGlyphs">GF10T1</text>
<text x="281.7" y="1447.3" font-size="13.5" text-anchor="end">78.6</text>
<text x="341" y="1447.3" font-size="13.5" text-anchor="end">77.6</text>
<text x="104" y="1471" font-size="13.5" font-weight="bold" textLength="52.7" lengthAdjust="spacingAndGlyphs">GF10T2</text>
<text x="281.7" y="1471" font-size="13.5" text-anchor="end">111.2</text>
<text x="341" y="1471" font-size="13.5" text-anchor="end">109.2</text>
<text x="104" y="1494.3" font-size="13.5" textLength="86" lengthAdjust="spacingAndGlyphs"><tspan font-weight="bold">GF10T3</tspan>, <tspan font-weight="bold">4</tspan>, <tspan font-weight="bold">5</tspan></text>
<text x="281.7" y="1494.3" font-size="13.5" text-anchor="end">119.2</text>
<text x="341" y="1494.3" font-size="13.5" text-anchor="end">117.2</text>
<text x="379.3" y="1461" font-size="13.5" textLength="91" lengthAdjust="spacingAndGlyphs">Standard: 300</text>
<text x="377.7" y="1484" font-size="13.5" font-weight="bold">-P</text>
<rect x="393.3" y="1474" width="11.5" height="10.5" fill="none" stroke="#111" stroke-width="1.1"/>
<text x="406.7" y="1484" font-size="13.5" textLength="49.5" lengthAdjust="spacingAndGlyphs"><tspan font-weight="bold">3</tspan>: 3000</text>
<text x="540" y="1447.3" font-size="13.5" textLength="193" lengthAdjust="spacingAndGlyphs">Length to the end of the valve</text>
<text x="540" y="1481.7" font-size="13.5" textLength="275" lengthAdjust="spacingAndGlyphs">Total length to the end of the opposite solenoid</text>

<!-- page number -->
<text x="89" y="1711" font-size="22" textLength="37" lengthAdjust="spacingAndGlyphs">468</text>
</svg>
</body></html>
